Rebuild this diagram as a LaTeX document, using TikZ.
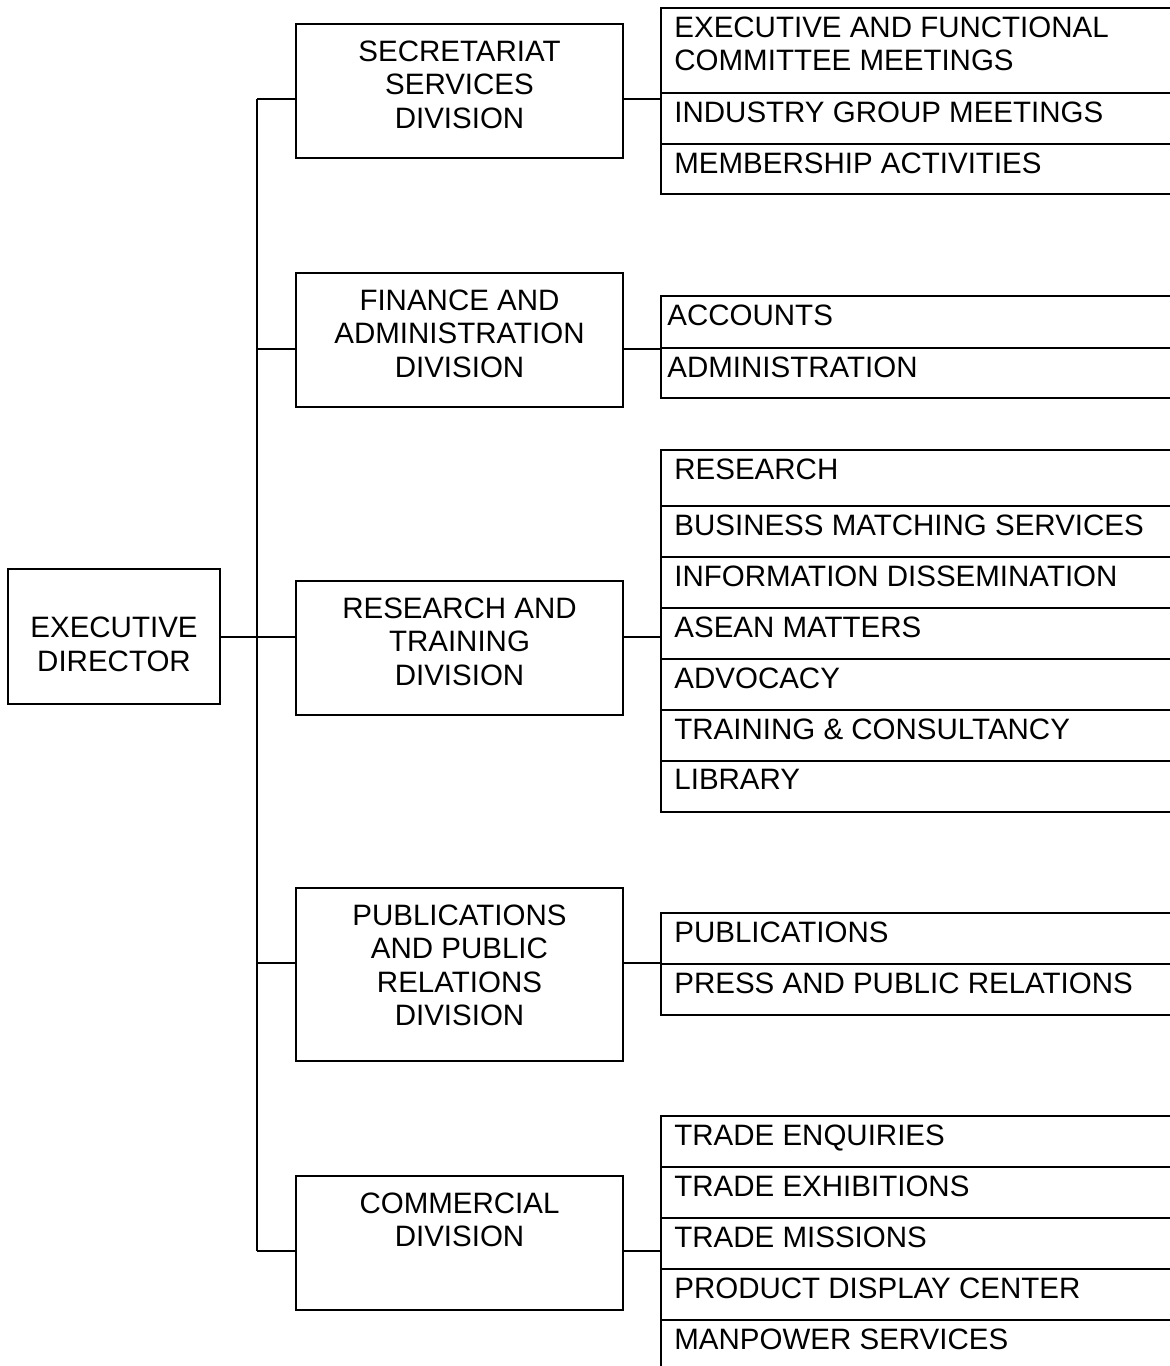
\documentclass[tikz,border=0pt]{standalone}
\usepackage{fontspec}
\setmainfont{Liberation Sans}
\begin{document}
\begin{tikzpicture}[x=0.5pt,y=-0.5pt,
  box/.style={draw, line width=1pt, rectangle, inner sep=0pt, minimum width=163.5pt, minimum height=67pt, anchor=north west},
  cellbox/.style={draw, line width=1pt, rectangle, inner sep=0pt, minimum width=270pt, anchor=north west},
  label/.style={inner sep=0pt, align=center, font=\fontsize{14.75pt}{16.75pt}\selectfont},
  celltext/.style={inner sep=0pt, anchor=north west, font=\fontsize{14.75pt}{16.75pt}\selectfont},
  conn/.style={line width=0.75pt},
  trunkline/.style={line width=1pt}]
\useasboundingbox (0,0) rectangle (1170,1366);
\clip (0,0) rectangle (1170,1366);

% one cell of a task list: name, top, height, text, text inset
\newcommand\mkcell[5]{%
  \node[cellbox, minimum height=#3] (#1) at (660,#2) {};
  \node[celltext] (#1-t) at ([xshift=#5, yshift=-4.5pt]#1.north west) {#4};}

% executive director
\node[box, minimum width=106pt, minimum height=67.5pt] (ed) at (7,568) {};
\node[label, anchor=north] (ed-t) at ([yshift=-24.4pt]ed.north) {EXECUTIVE\\DIRECTOR};

% divisions
\node[box] (sec) at (295,23) {};
\node[label, anchor=north] (sec-t) at ([yshift=-8.5pt]sec.north) {SECRETARIAT\\SERVICES\\DIVISION};
\node[box] (fin) at (295,272) {};
\node[label, anchor=north] (fin-t) at ([yshift=-8.5pt]fin.north) {FINANCE AND\\ADMINISTRATION\\DIVISION};
\node[box] (res) at (295,580) {};
\node[label, anchor=north] (res-t) at ([yshift=-8.5pt]res.north) {RESEARCH AND\\TRAINING\\DIVISION};
\node[box, minimum height=86.5pt] (pub) at (295,887) {};
\node[label, anchor=north] (pub-t) at ([yshift=-8.5pt]pub.north) {PUBLICATIONS\\AND PUBLIC\\RELATIONS\\DIVISION};
\node[box] (com) at (295,1175) {};
\node[label, anchor=north] (com-t) at ([yshift=-8.5pt]com.north) {COMMERCIAL\\DIVISION};

% secretariat tasks
\node[cellbox, minimum height=42.5pt] (s1) at (660,7) {};
\node[celltext, align=left] (s1-t) at ([xshift=7pt, yshift=-4.5pt]s1.north west) {EXECUTIVE AND FUNCTIONAL\\COMMITTEE MEETINGS};
\mkcell{s2}{92}{25.5pt}{INDUSTRY GROUP MEETINGS}{7pt}
\mkcell{s3}{143}{25pt}{MEMBERSHIP ACTIVITIES}{7pt}

% finance tasks
\mkcell{f1}{295}{26pt}{ACCOUNTS}{3.5pt}
\mkcell{f2}{347}{25pt}{ADMINISTRATION}{3.5pt}

% research tasks
\mkcell{r1}{449}{28pt}{RESEARCH}{7pt}
\mkcell{r2}{505}{25.5pt}{BUSINESS MATCHING SERVICES}{7pt}
\mkcell{r3}{556}{25.5pt}{INFORMATION DISSEMINATION}{7pt}
\mkcell{r4}{607}{25.5pt}{ASEAN MATTERS}{7pt}
\mkcell{r5}{658}{25.5pt}{ADVOCACY}{7pt}
\mkcell{r6}{709}{25.5pt}{TRAINING \& CONSULTANCY}{7pt}
\mkcell{r7}{760}{25.5pt}{LIBRARY}{7pt}

% publications tasks
\mkcell{p1}{912}{25.5pt}{PUBLICATIONS}{7pt}
\mkcell{p2}{963}{25.5pt}{PRESS AND PUBLIC RELATIONS}{7pt}

% commercial tasks
\mkcell{c1}{1115}{25.5pt}{TRADE ENQUIRIES}{7pt}
\mkcell{c2}{1166}{25.5pt}{TRADE EXHIBITIONS}{7pt}
\mkcell{c3}{1217}{25.5pt}{TRADE MISSIONS}{7pt}
\mkcell{c4}{1268}{25.5pt}{PRODUCT DISPLAY CENTER}{7pt}
\mkcell{c5}{1319}{42pt}{MANPOWER SERVICES}{7pt}

% trunk and branch connectors
\coordinate (t1) at (257,99);
\coordinate (t2) at (257,349);
\coordinate (t3) at (257,637);
\coordinate (t4) at (257,963);
\coordinate (t5) at (257,1251);
\draw[trunkline] (t1) -- (t5);
\draw[conn] (t3 -| ed.east) -- (t3 -| res.west);
\foreach \t/\d/\c in {t1/sec/s1, t2/fin/f1, t3/res/r1, t4/pub/p1, t5/com/c1}{
  \draw[conn] (\t) -- (\t -| \d.west);
  \draw[conn] (\t -| \d.east) -- (\t -| \c.west);
}
\end{tikzpicture}
\end{document}
